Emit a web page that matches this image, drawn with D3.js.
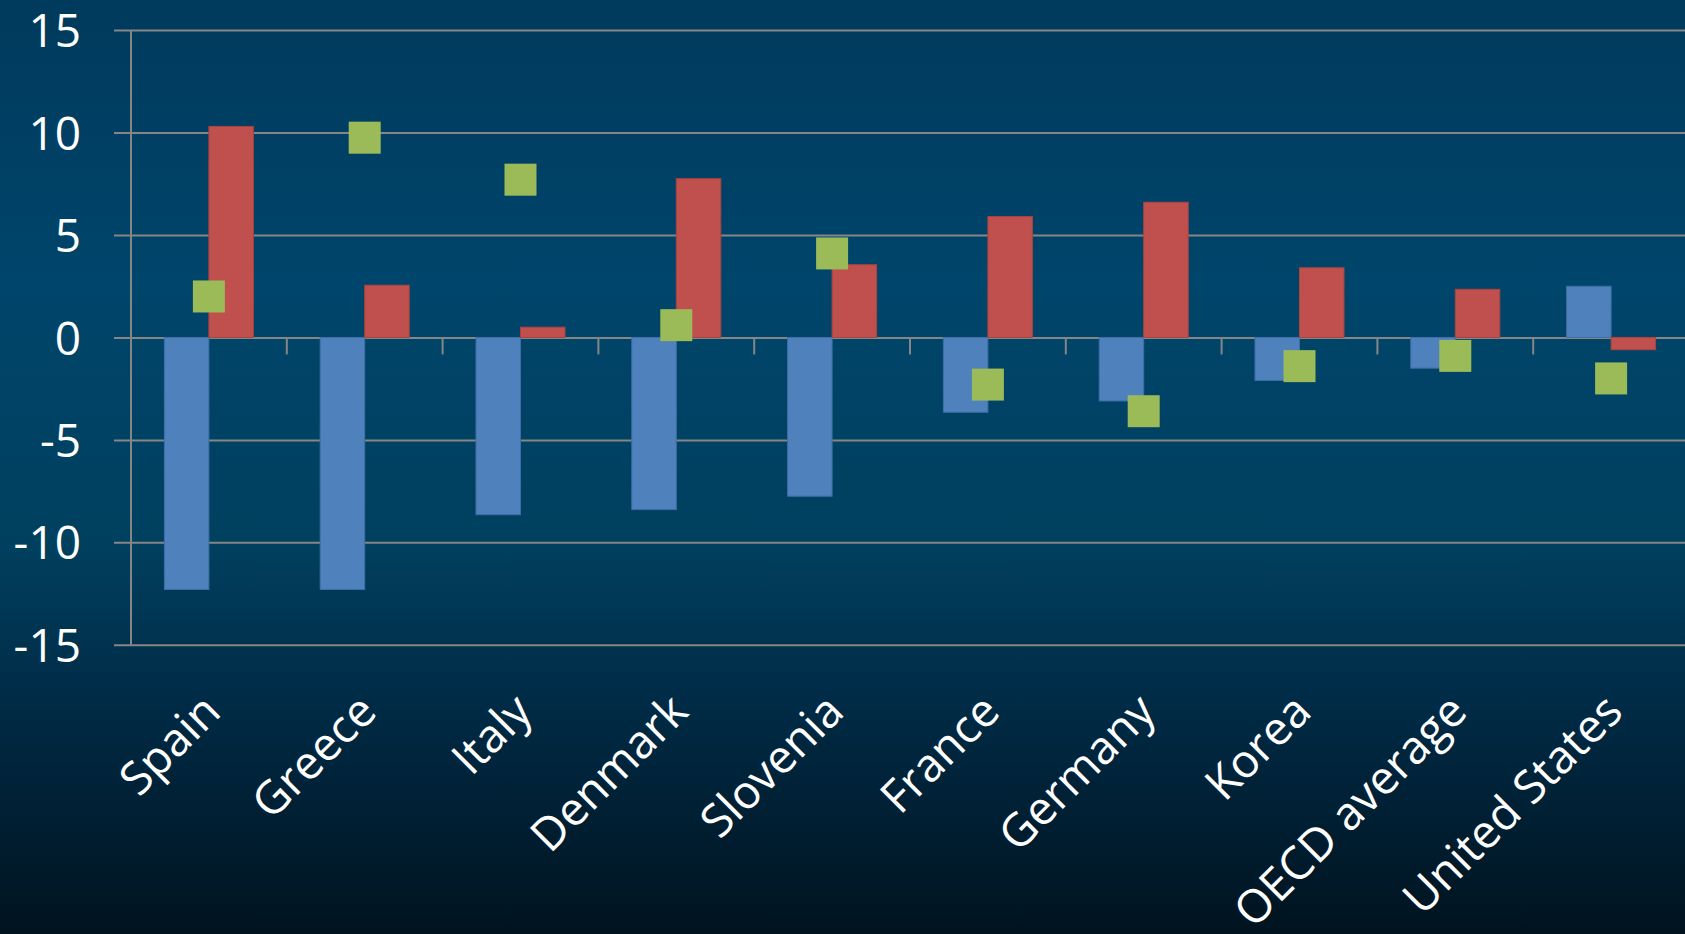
<!DOCTYPE html>
<html>
<head>
<meta charset="utf-8">
<script src="https://cdn.jsdelivr.net/npm/d3@7"></script>
<style>
  html, body { margin: 0; padding: 0; overflow: hidden; background: #002a44; }
  svg { display: block; }
  text { font-family: "Open Sans", "Noto Sans", sans-serif; fill: #ffffff; }
</style>
</head>
<body>
<svg id="chart" width="1685" height="934"></svg>
<script>
const categories = ["Spain", "Greece", "Italy", "Denmark", "Slovenia", "France", "Germany", "Korea", "OECD average", "United States"];
const blueValues  = [-12.3, -12.3, -8.65, -8.4, -7.75, -3.65, -3.1, -2.1, -1.5, 2.5];
const redValues   = [10.3, 2.55, 0.5, 7.75, 3.55, 5.9, 6.6, 3.4, 2.35, -0.6];
const greenValues = [2.0, 9.75, 7.7, 0.6, 4.1, -2.3, -3.6, -1.4, -0.9, -2.0];
const yTicks = [-15, -10, -5, 0, 5, 10, 15];

const W = 1685, H = 934;
const svg = d3.select("#chart");

// background gradient
const defs = svg.append("defs");
const grad = defs.append("linearGradient").attr("id", "bg").attr("x1", 0).attr("y1", 0).attr("x2", 0).attr("y2", 1);
[["0%", "#003a5c"], ["30%", "#00456b"], ["58%", "#00405f"], ["75%", "#002b46"], ["100%", "#00131f"]]
  .forEach(([o, c]) => grad.append("stop").attr("offset", o).attr("stop-color", c));
svg.append("rect").attr("width", W).attr("height", H).attr("fill", "url(#bg)");

const x0 = 131, bandW = 155.8;
const x = d3.scaleBand().domain(categories).range([x0, x0 + bandW * categories.length]).paddingInner(0).paddingOuter(0);
const y = d3.scaleLinear().domain([-15, 15]).range([644.8, 30.1]);

const barW = x.bandwidth() / 3.5;
const gridColor = "#868686";

// gridlines with outward ticks
const yAxis = d3.axisLeft(y).tickValues(yTicks).tickSize(-(W - x0 + 10)).tickFormat(d => String(d)).tickPadding(0);
const gy = svg.append("g").attr("transform", `translate(${x0},0)`).call(yAxis);
gy.select(".domain").remove();
gy.selectAll(".tick line").attr("stroke", gridColor).attr("stroke-width", 2).attr("x1", -17);
gy.selectAll(".tick text").attr("x", -50).attr("dy", "0.36em")
  .style("font-size", "46px").style("text-anchor", "end").attr("fill", "#ffffff");

// y axis line
svg.append("line").attr("x1", x0).attr("x2", x0).attr("y1", y(15)).attr("y2", y(-15))
  .attr("stroke", gridColor).attr("stroke-width", 2);

// category tick marks at zero line
const boundaries = categories.slice(1).map(c => x(c));
svg.append("g").selectAll("line").data(boundaries).join("line")
  .attr("x1", d => d).attr("x2", d => d).attr("y1", y(0)).attr("y2", y(0) + 17)
  .attr("stroke", gridColor).attr("stroke-width", 2);

const cx = c => x(c) + x.bandwidth() / 2;

// blue bars
svg.append("g").selectAll("rect").data(categories).join("rect")
  .attr("x", c => cx(c) - barW)
  .attr("width", barW)
  .attr("y", (c, i) => y(Math.max(0, blueValues[i])))
  .attr("height", (c, i) => Math.abs(y(blueValues[i]) - y(0)))
  .attr("fill", "#4f81bd").attr("stroke", "#3f6ea6").attr("stroke-width", 1);

// red bars
svg.append("g").selectAll("rect").data(categories).join("rect")
  .attr("x", c => cx(c))
  .attr("width", barW)
  .attr("y", (c, i) => y(Math.max(0, redValues[i])))
  .attr("height", (c, i) => Math.abs(y(redValues[i]) - y(0)))
  .attr("fill", "#c0504d").attr("stroke", "#a9443f").attr("stroke-width", 1);

// green square markers
const ms = 32;
svg.append("g").selectAll("rect").data(categories).join("rect")
  .attr("x", c => cx(c) - ms / 2)
  .attr("y", (c, i) => y(greenValues[i]) - ms / 2)
  .attr("width", ms).attr("height", ms)
  .attr("fill", "#9bbb59");

// category labels rotated -45
svg.append("g").selectAll("text").data(categories).join("text")
  .attr("transform", c => `translate(${cx(c) + 14},${714}) rotate(-45)`)
  .style("text-anchor", "end")
  .style("font-size", "46px")
  .text(c => c);
</script>
</body>
</html>
